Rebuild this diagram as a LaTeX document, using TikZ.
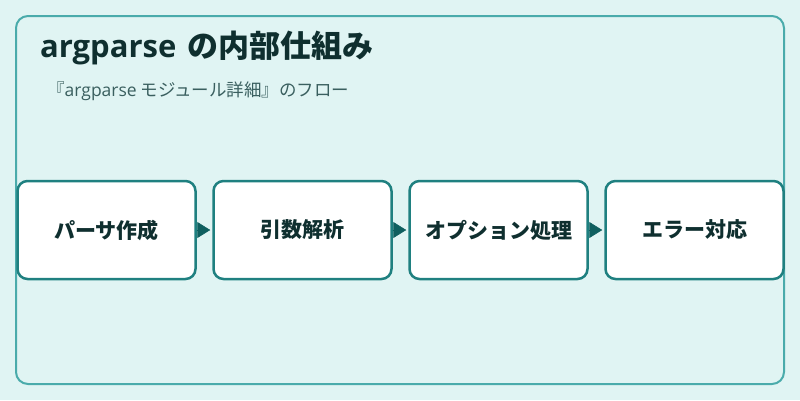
\documentclass[tikz,border=0pt]{standalone}
\usepackage{fontspec}
\setmainfont{Noto Sans CJK JP}
\newfontfamily\latin{Open Sans}
\usetikzlibrary{arrows.meta}

\definecolor{fond}{HTML}{E0F4F3}
\definecolor{cadre}{HTML}{4AABAB}
\definecolor{bord}{HTML}{1F8080}
\definecolor{pointe}{HTML}{0F5F5F}
\definecolor{titre}{HTML}{0F2F2F}
\definecolor{soustitre}{HTML}{3A5F5F}

\begin{document}
\begin{tikzpicture}[x=1pt,y=-1pt]
		\tikzstyle{etape} = [draw=bord,line width=2.5pt,fill=white,rounded corners=10pt,minimum width=178pt,minimum height=98pt,font=\bfseries\fontsize{21pt}{25pt}\selectfont,text=titre]
		\tikzstyle{fleche} = [-{Triangle[length=13pt,width=16pt]},draw=pointe,fill=pointe,line width=0.5pt,shorten >=2pt]
		
		\fill[fond] (0,0) rectangle (800,400);
		\useasboundingbox (0,0) rectangle (800,400);
		\draw[cadre,line width=2pt,rounded corners=12pt] (16,16) rectangle (784,384);
		
		\node[anchor=base west,inner sep=0pt,text=titre,font=\bfseries\fontsize{31pt}{35pt}\selectfont](T) at (40,57) {{\latin\bfseries argparse}\hspace{4pt} の内部仕組み};
		\node[anchor=base west,inner sep=0pt,text=soustitre,font=\fontsize{17.5pt}{21pt}\selectfont](ST) at (47,96) {『{\latin argparse} モジュール詳細』のフロー};
		
		\node[etape](A) at (106.5,230) {パーサ作成};
		\node[etape](B) at (302.5,230) {引数解析};
		\node[etape](C) at (498.5,230) {オプション処理};
		\node[etape](D) at (694.5,230) {エラー対応};
		
		\draw[fleche] (A) -- (B);
		\draw[fleche] (B) -- (C);
		\draw[fleche] (C) -- (D);
		
		\end{tikzpicture}
\end{document}
